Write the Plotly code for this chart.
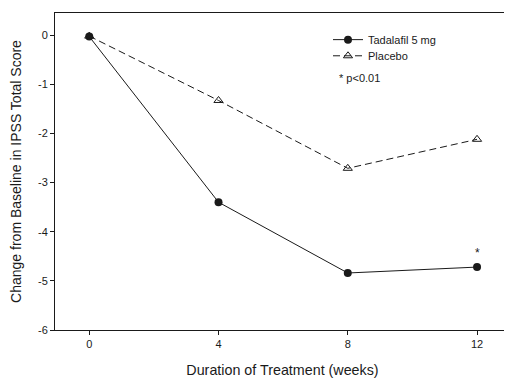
import plotly.graph_objects as go

weeks = [0, 4, 8, 12]
tadalafil = [-0.03, -3.40, -4.84, -4.72]
placebo = [-0.02, -1.33, -2.71, -2.12]
x_ticks = [0, 4, 8, 12]
y_ticks = [0, -1, -2, -3, -4, -5, -6]
y_tick_text = [str(v) for v in y_ticks]

FONT = "Liberation Sans, Arial, sans-serif"
INK = "#1a1a1a"

fig = go.Figure()
fig.add_trace(go.Scatter(
    x=weeks, y=tadalafil, name="Tadalafil 5 mg", mode="lines+markers",
    line=dict(color=INK, width=1),
    marker=dict(symbol="circle", size=8, color=INK),
    legend="legend", showlegend=True,
))
fig.add_trace(go.Scatter(
    x=weeks, y=placebo, name="Placebo", mode="lines+markers",
    line=dict(color=INK, width=1, dash="7px,4px"),
    marker=dict(symbol="triangle-up-open", size=8, color=INK, line=dict(width=1)),
    legend="legend2", showlegend=True,
))

fig.add_annotation(x=12, y=tadalafil[3], text="*", showarrow=False, yshift=14,
                   font=dict(family=FONT, size=12, color=INK))
fig.add_annotation(x=0.620, y=0.795, xref="paper", yref="paper", text="* p<0.01",
                   showarrow=False, xanchor="left", yanchor="middle",
                   font=dict(family=FONT, size=11, color=INK))

axis_common = dict(
    showgrid=False, zeroline=False, showline=True, linecolor=INK, linewidth=1,
    mirror=True, ticks="outside", ticklen=4, tickcolor=INK, automargin=False,
    tickfont=dict(family=FONT, size=11, color=INK),
)
leg_common = dict(xanchor="left", yanchor="middle", bgcolor="rgba(0,0,0,0)",
                  font=dict(family=FONT, size=11, color=INK), borderwidth=0,
                  visible=True)
fig.update_layout(
    width=504, height=371,
    margin=dict(l=47, r=2, t=5, b=49),
    paper_bgcolor="white", plot_bgcolor="white",
    showlegend=True,
    font=dict(family=FONT, color=INK),
    xaxis=dict(range=[-1.06, 13.02], tickvals=x_ticks,
               title=dict(text="Duration of Treatment (weeks)", font=dict(size=14.3, family=FONT, color=INK), standoff=15),
               **axis_common),
    yaxis=dict(range=[-6, 0.45], tickvals=y_ticks, ticktext=y_tick_text,
               title=dict(text="Change from Baseline in IPSS Total Score", font=dict(size=14, family=FONT, color=INK), standoff=14),
               **axis_common),
    legend=dict(x=0.6, y=0.916, **leg_common),
    legend2=dict(x=0.6, y=0.865, **leg_common),
)
fig.write_html("out.html")
